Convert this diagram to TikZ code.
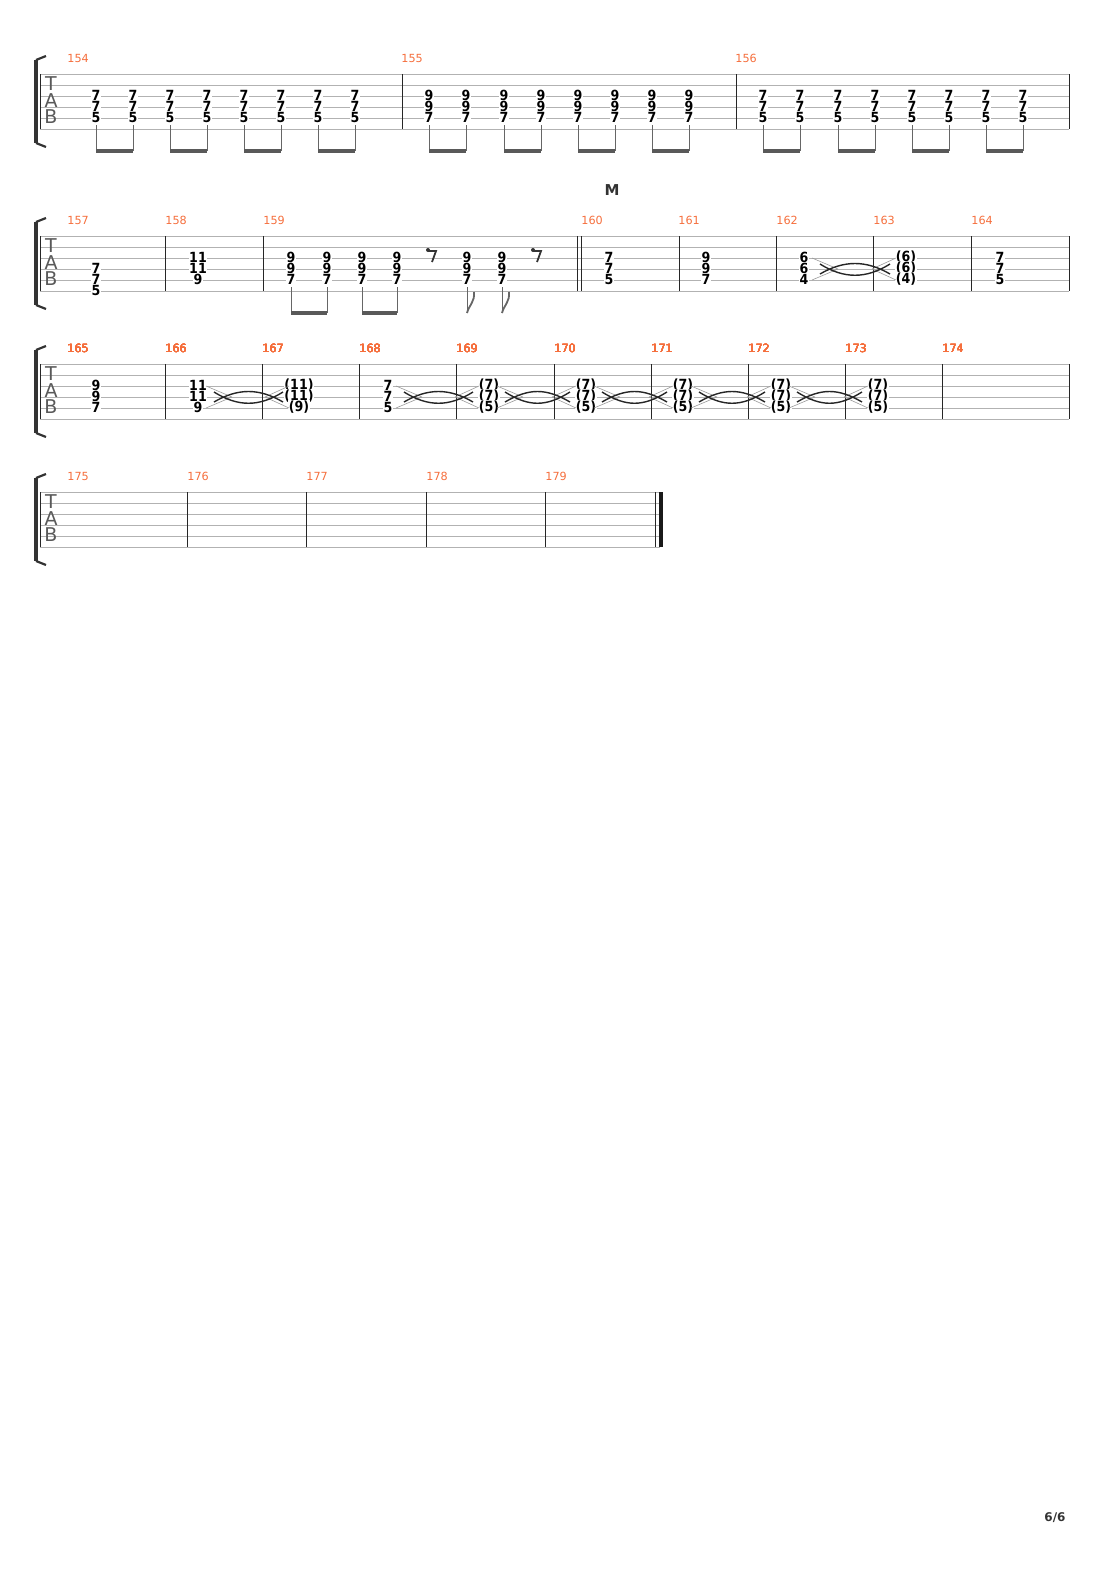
\documentclass[tikz,border=0pt]{standalone}
\usepackage{fontspec}
\setmainfont{DejaVu Sans}
\newfontfamily\numf{DejaVu Sans Condensed}
\begin{document}
\begin{tikzpicture}[x=0.5pt,y=-0.5pt,
  stl/.style={draw=black!30,line width=0.35pt},
  bar/.style={draw=black!85,line width=0.45pt},
  num/.style={font=\numf\bfseries\fontsize{7}{7}\selectfont,fill=white,inner sep=0.3pt},
  mnum/.style={font=\mdseries\fontsize{5.6}{6}\selectfont,text={rgb,255:red,245;green,110;blue,60},anchor=west,inner sep=0},
  tabl/.style={font=\mdseries\fontsize{9.5}{9.5}\selectfont,text=black!65,inner sep=0},
  stem/.style={draw=black!60,line width=0.5pt},
  beam/.style={draw=black!65,line width=1.6pt},
  tie/.style={draw=black!85,line width=0.7pt}]
\useasboundingbox (0,0) rectangle (1110,1570);
\newcommand{\staff}[2]{% y0, x-end
  \foreach \i in {0,...,5} \draw[stl] (40,#1+11*\i) -- (#2,#1+11*\i);
  \draw[line width=1.6pt,black!80] (36,#1-14) -- (36,#1+69);
  \draw[line width=1.1pt,black!80] (36,#1-14) -- (46,#1-18);
  \draw[line width=1.1pt,black!80] (36,#1+69) -- (46,#1+73);
  \draw[bar] (40,#1) -- (40,#1+55);
  \node[tabl] at (51,#1+10) {T};
  \node[tabl] at (51,#1+27) {A};
  \node[tabl] at (51,#1+43) {B};}
\newcommand{\barl}[2]{\draw[bar] (#2,#1) -- (#2,#1+55);}
\newcommand{\chord}[6]{%
  \node[num] at (#2,#1+11*#3-1) {#4};
  \node[num] at (#2,#1+11*#3+10) {#5};
  \node[num] at (#2,#1+11*#3+21) {#6};}
\newcommand{\tie}[3]{% y0,x1,x2
  \draw[black!40,line width=0.3pt] (#2+8,#1+22) -- (#2+34,#1+33) (#2+8,#1+44) -- (#2+34,#1+33)
    (#3-10,#1+22) -- (#3-34,#1+33) (#3-10,#1+44) -- (#3-34,#1+33);
  \draw[tie] (#2+16,#1+38) .. controls (#2+40,#1+24) and (#3-40,#1+24) .. (#3-16,#1+38);
  \draw[tie] (#2+16,#1+28) .. controls (#2+40,#1+43) and (#3-40,#1+43) .. (#3-16,#1+28);}
\newcommand{\bpair}[4]{%
  \draw[stem] (#3,#1) -- (#3,#2) (#4,#1) -- (#4,#2);
  \draw[beam] (#3,#2) -- (#4,#2);}
% ---- system 1
\staff{74}{1069}
\barl{74}{402}\barl{74}{736}\barl{74}{1069}
\node[mnum] at (67,58) {154};\node[mnum] at (401,58) {155};\node[mnum] at (735,58) {156};
\foreach \x in {96,133,170,207,244,281,318,355} \chord{74}{\x}{2}{7}{7}{5};
\foreach \x in {429,466,504,541,578,615,652,689} \chord{74}{\x}{2}{9}{9}{7};
\foreach \x in {763,800,838,875,912,949,986,1023} \chord{74}{\x}{2}{7}{7}{5};
\foreach \a/\b in {96/133,170/207,244/281,318/355,429/466,504/541,578/615,652/689,763/800,838/875,912/949,986/1023}
  \bpair{125}{151}{\a}{\b};
% ---- system 2
\node[font=\bfseries\fontsize{7.5}{8}\selectfont,text=black!80] at (612,190) {M};
\staff{236}{1069}
\foreach \x in {165,263,679,776,873,971,1069} \barl{236}{\x}
\draw[bar] (577,236) -- (577,291); \draw[bar] (581,236) -- (581,291);
\foreach \n/\x in {157/67,158/165,159/263,160/581,161/678,162/776,163/873,164/971}
  \node[mnum] at (\x,220) {\n};
\chord{236}{96}{3}{7}{7}{5}
\chord{236}{198}{2}{11}{11}{9}
\foreach \x in {291,327,362,397,467,502} \chord{236}{\x}{2}{9}{9}{7};
\bpair{287}{313}{291}{327}\bpair{287}{313}{362}{397}
\foreach \x in {467,502}{\draw[stem] (\x,287) -- (\x,313);
  \draw[stem,line width=0.9pt] (\x,313) .. controls (\x+2,305) and (\x+8,302) .. (\x+7,292);}
\foreach \x in {432,537}{\draw[line width=0.9pt,black!80] (\x-4,251) -- (\x+4,251) -- (\x,262);
  \fill[black!80] (\x-4,250) circle (2);}
\chord{236}{609}{2}{7}{7}{5}
\chord{236}{706}{2}{9}{9}{7}
\chord{236}{804}{2}{6}{6}{4}
\chord{236}{906}{2}{(6)}{(6)}{(4)}
\chord{236}{1000}{2}{7}{7}{5}
\tie{236}{804}{906}
% ---- system 3
\staff{364}{1069}
\foreach \x in {165,262,359,456,554,651,748,845,942,1069} \barl{364}{\x}
\foreach \n/\x in {165/67,166/165,167/262,168/359,169/456,170/554,171/651,172/748,173/845,174/942}
  \node[mnum] at (\x,348) {\n};
\chord{364}{96}{2}{9}{9}{7}
\chord{364}{198}{2}{11}{11}{9}
\chord{364}{299}{2}{(11)}{(11)}{(9)}
\chord{364}{388}{2}{7}{7}{5}
\foreach \x in {489,586,683,781,878} \chord{364}{\x}{2}{(7)}{(7)}{(5)};
\tie{364}{198}{299}
\foreach \a/\b in {388/489,489/586,586/683,683/781,781/878} \tie{364}{\a}{\b};
% ---- system 4
\staff{492}{660}
\foreach \x in {187,306,426,545,655} \barl{492}{\x}
\draw[line width=2.2pt,black!90] (661,492) -- (661,547);
\foreach \n/\x in {175/67,176/187,177/306,178/426,179/545}
  \node[mnum] at (\x,476) {\n};
\node[font=\bfseries\fontsize{6}{6}\selectfont,text=black!80] at (1055,1518) {6/6};
\end{tikzpicture}
\end{document}
